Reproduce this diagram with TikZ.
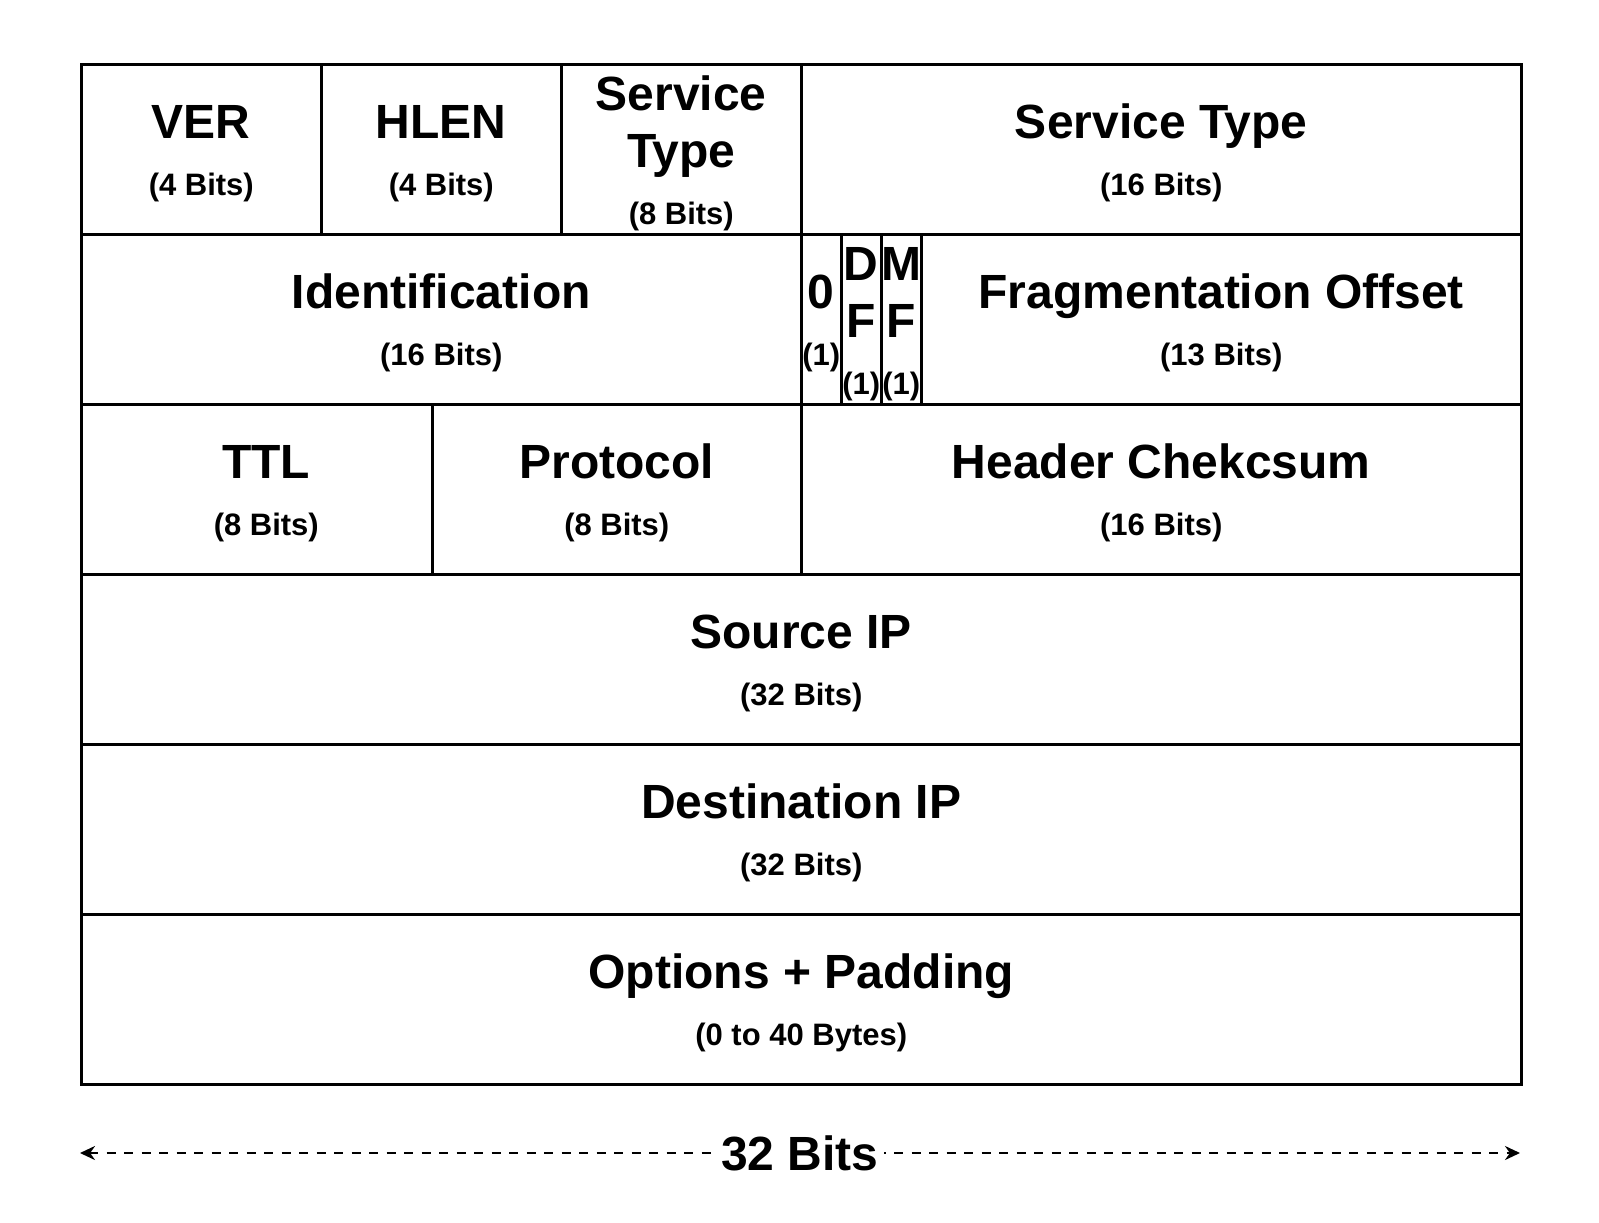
\documentclass[tikz,border=0pt]{standalone}
\usepackage{fontspec}
\setmainfont{Liberation Sans}
\usetikzlibrary{arrows.meta, positioning}
\newcommand{\hdrtitle}{\bfseries\fontsize{48}{57}\selectfont}
\newcommand{\hdrsub}{\bfseries\fontsize{31}{57}\selectfont}

\begin{document}
\begin{tikzpicture}[x=1pt, y=-1pt,
		cell/.style={draw, line width=2.6pt, inner sep=0pt, anchor=north west, minimum height=170pt, text height=42.6pt, align=flush center, font=\hdrtitle},
		fieldbox/.style={cell, text width=#1, minimum width=#1},
		span/.style={{Stealth[length=15pt, width=14pt]}-{Stealth[length=15pt, width=14pt]}, line width=2.6pt, dash pattern=on 9pt off 8.5pt}]
	\useasboundingbox (0,0) rectangle (1599,1223);

	% row 1
	\node[fieldbox=240pt] (ver)  at (80,63)  {VER\\\hdrsub (4 Bits)};
	\node[fieldbox=240pt] (hlen) at (320,63) {HLEN\\\hdrsub (4 Bits)};
	\node[fieldbox=240pt] (tos)  at (560,63) {Service\\Type\\\hdrsub (8 Bits)};
	\node[fieldbox=720pt] (len)  at (800,63) {Service Type\\\hdrsub (16 Bits)};

	% row 2
	\node[fieldbox=720pt] (ident) at (80,233)  {Identification\\\hdrsub (16 Bits)};
	\node[fieldbox=40pt]  (zero)  at (800,233) {0\\\hdrsub (1)};
	\node[fieldbox=40pt]  (df)    at (840,233) {D\\F\\\hdrsub (1)};
	\node[fieldbox=40pt]  (mf)    at (880,233) {M\\F\\\hdrsub (1)};
	\node[fieldbox=600pt] (frag)  at (920,233) {Fragmentation Offset\\\hdrsub (13 Bits)};

	% row 3 (TTL runs under Protocol)
	\node[fieldbox=370pt] (ttl)   at (80,403)  {TTL\\\hdrsub (8 Bits)};
	\node[fieldbox=369pt, fill=white] (proto) at (431,403) {Protocol\\\hdrsub (8 Bits)};
	\node[fieldbox=720pt] (csum)  at (800,403) {Header Chekcsum\\\hdrsub (16 Bits)};

	% rows 4--6
	\node[fieldbox=1440pt] (src)  at (80,573) {Source IP\\\hdrsub (32 Bits)};
	\node[fieldbox=1440pt] (dst)  at (80,743) {Destination IP\\\hdrsub (32 Bits)};
	\node[fieldbox=1440pt] (opts) at (80,913) {Options + Padding\\\hdrsub (0 to 40 Bytes)};

	% width marker
	\coordinate (wl) at (80,1153);
	\coordinate (wr) at (1520,1153);
	\draw[span] (wl) -- node[fill=white, inner xsep=5pt, inner ysep=2pt, font=\hdrtitle] (wlbl) {32 Bits} (wr);
\end{tikzpicture}
\end{document}
